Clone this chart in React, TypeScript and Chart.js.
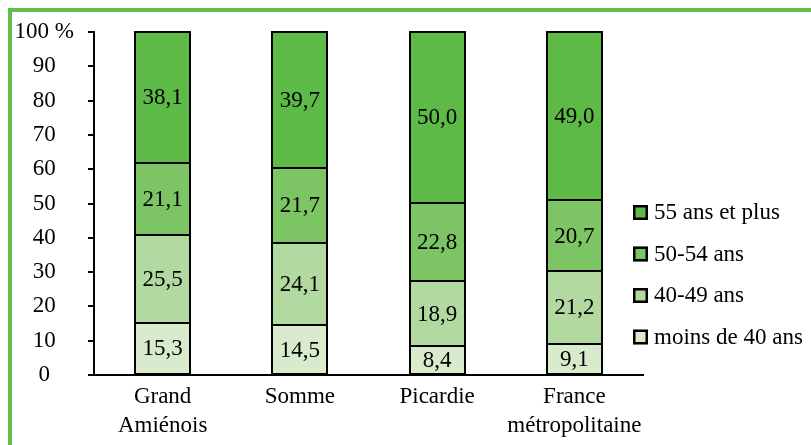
import React, { useEffect, useRef } from "react";
import { Chart, registerables } from "chart.js";

Chart.register(...registerables);

const categories: (string | string[])[] = [["Grand", "Amiénois"], "Somme", "Picardie", ["France", "métropolitaine"]];
const seriesNames = ["moins de 40 ans", "40-49 ans", "50-54 ans", "55 ans et plus"];
const under40 = [15.3, 14.5, 8.4, 9.1];
const age40to49 = [25.5, 24.1, 18.9, 21.2];
const age50to54 = [21.1, 21.7, 22.8, 20.7];
const age55plus = [38.1, 39.7, 50.0, 49.0];
const colors = ["#D9EBCD", "#B2D9A0", "#7CC464", "#5DBA47"];
const yTicks = [0, 10, 20, 30, 40, 50, 60, 70, 80, 90, 100];

const FONT = "'Liberation Serif', 'Times New Roman', serif";
const FS = 23;

const framePlugin = {
  id: "frame",
  beforeDraw(chart: any) {
    const ctx = chart.ctx;
    ctx.save();
    ctx.fillStyle = "#66BE4A";
    ctx.fillRect(8, 8, 803, 4);
    ctx.fillRect(8, 8, 4, 437);
    ctx.restore();
  },
};

const barBorderPlugin = {
  id: "barBorders",
  afterDatasetsDraw(chart: any) {
    const ctx = chart.ctx;
    ctx.save();
    ctx.strokeStyle = "#000";
    ctx.lineWidth = 2;
    chart.data.datasets.forEach((_ds: any, i: number) => {
      const meta = chart.getDatasetMeta(i);
      meta.data.forEach((bar: any) => {
        const { x, y, base, width } = bar.getProps(["x", "y", "base", "width"], true);
        const l = Math.round(x - width / 2);
        const r = Math.round(x + width / 2);
        const t = Math.round(Math.min(y, base));
        const b = Math.round(Math.max(y, base));
        ctx.strokeRect(l, t, r - l, b - t);
      });
    });
    ctx.restore();
  },
};

const dataLabelPlugin = {
  id: "dataLabels",
  afterDatasetsDraw(chart: any) {
    const ctx = chart.ctx;
    ctx.save();
    ctx.font = `${FS}px ${FONT}`;
    ctx.fillStyle = "#000";
    ctx.textAlign = "center";
    ctx.textBaseline = "middle";
    chart.data.datasets.forEach((ds: any, i: number) => {
      const meta = chart.getDatasetMeta(i);
      meta.data.forEach((bar: any, j: number) => {
        const v = ds.data[j];
        const y = (bar.y + bar.base) / 2;
        ctx.fillText(v.toFixed(1).replace(".", ","), bar.x, y + 1);
      });
    });
    ctx.restore();
  },
};

const legendPlugin = {
  id: "customLegend",
  afterDraw(chart: any) {
    const ctx = chart.ctx;
    ctx.save();
    ctx.font = `${FS}px ${FONT}`;
    ctx.textBaseline = "middle";
    ctx.textAlign = "left";
    const ys = [212, 253.5, 295, 336.5];
    const order = [3, 2, 1, 0];
    order.forEach((idx, k) => {
      const y = ys[k];
      ctx.fillStyle = colors[idx];
      ctx.fillRect(633, y - 7, 15, 15);
      ctx.strokeStyle = "#000";
      ctx.lineWidth = 2.5;
      ctx.strokeRect(634.25, y - 5.75, 12.5, 12.5);
      ctx.fillStyle = "#000";
      ctx.fillText(seriesNames[idx], 654, y + 1);
    });
    ctx.restore();
  },
};

export default function App() {
  const canvasRef = useRef<HTMLCanvasElement | null>(null);

  useEffect(() => {
    if (!canvasRef.current) return;
    const values = [under40, age40to49, age50to54, age55plus];
    const chart = new Chart(canvasRef.current, {
      type: "bar",
      data: {
        labels: categories as any,
        datasets: values.map((d, i) => ({
          label: seriesNames[i],
          data: d,
          backgroundColor: colors[i],
          borderWidth: 0,
          categoryPercentage: 0.8,
          barPercentage: 0.5,
        })),
      },
      options: {
        animation: false,
        responsive: false,
        devicePixelRatio: 1,
        layout: { padding: { left: 0, top: 32, right: 168, bottom: 0 } },
        plugins: {
          legend: { display: false },
          tooltip: { enabled: false },
        },
        scales: {
          x: {
            stacked: true,
            grid: { display: false, drawTicks: false },
            border: { display: true, color: "#000", width: 2 },
            ticks: {
              color: "#000",
              font: { family: FONT, size: FS, lineHeight: 1.25 },
              padding: 8,
              maxRotation: 0,
              autoSkip: false,
            },
            afterFit(scale: any) {
              scale.height = 70;
            },
          },
          y: {
            stacked: true,
            min: 0,
            max: 100,
            afterBuildTicks(scale: any) {
              scale.ticks = yTicks.map((v) => ({ value: v }));
            },
            grid: {
              display: true,
              drawOnChartArea: false,
              drawTicks: true,
              tickLength: 6,
              color: "#000",
              lineWidth: 2,
            },
            border: { display: true, color: "#000", width: 2 },
            ticks: {
              color: "#000",
              font: { family: FONT, size: FS },
              crossAlign: "center",
              padding: 14,
              callback: (v: any) => (v === 100 ? "100 %" : String(v)),
            },
            afterFit(scale: any) {
              scale.width = 94;
            },
          },
        },
      },
      plugins: [framePlugin, barBorderPlugin, dataLabelPlugin, legendPlugin],
    });
    return () => chart.destroy();
  }, []);

  return (
    <div style={{ position: "absolute", left: 0, top: 0, width: 811, height: 445, background: "#fff" }}>
      <canvas ref={canvasRef} width={811} height={445} style={{ display: "block" }} />
    </div>
  );
}
